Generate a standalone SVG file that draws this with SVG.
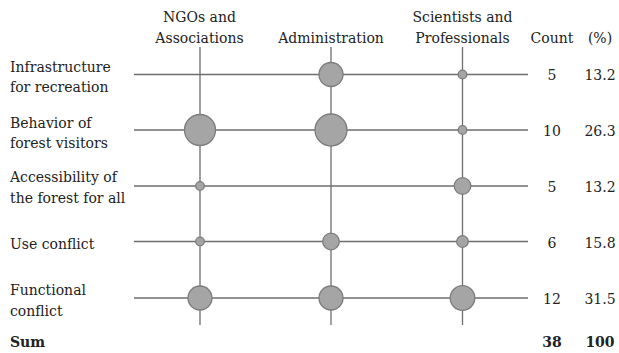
<svg xmlns="http://www.w3.org/2000/svg" width="619" height="353" viewBox="0 0 619 353">
<style>
text{font-family:"DejaVu Serif","Liberation Serif",serif;font-size:14px;fill:#222}
.c{text-anchor:middle}
.b{font-weight:bold}
.ln{stroke:#6e6e6e;stroke-width:1.3;fill:none}
.dot{fill:#a5a5a5;stroke:#7c7c7c;stroke-width:1.3}
</style>
<rect width="619" height="353" fill="#fff"/>
<g id="connectors">
<line class="ln" x1="200" y1="47" x2="200" y2="325"/>
<line class="ln" x1="331" y1="47" x2="331" y2="325"/>
<line class="ln" x1="462.5" y1="47" x2="462.5" y2="325"/>
<line class="ln" x1="134" y1="74.5" x2="528" y2="74.5"/>
<line class="ln" x1="134" y1="130" x2="528" y2="130"/>
<line class="ln" x1="134" y1="186" x2="528" y2="186"/>
<line class="ln" x1="134" y1="241.5" x2="528" y2="241.5"/>
<line class="ln" x1="134" y1="298" x2="528" y2="298"/>
</g>
<g id="headers">
<text class="c" x="199.5" y="22">NGOs and</text>
<text class="c" x="199.5" y="43">Associations</text>
<text class="c" x="331" y="43">Administration</text>
<text class="c" x="462.5" y="22">Scientists and</text>
<text class="c" x="462.5" y="43">Professionals</text>
<text class="c" x="552" y="43">Count</text>
<text class="c" x="600" y="43">(%)</text>
</g>
<g id="row-infrastructure">
<text x="10" y="72">Infrastructure</text>
<text x="10" y="92">for recreation</text>
<circle class="dot" cx="331" cy="74.5" r="12"/>
<circle class="dot" cx="462.5" cy="74.5" r="4.3"/>
<text class="c" x="552" y="80">5</text>
<text class="c" x="600" y="80">13.2</text>
</g>
<g id="row-behavior">
<text x="10" y="128">Behavior of</text>
<text x="10" y="148">forest visitors</text>
<circle class="dot" cx="200" cy="130" r="15.5"/>
<circle class="dot" cx="331" cy="130" r="16"/>
<circle class="dot" cx="462.5" cy="130" r="4.3"/>
<text class="c" x="552" y="136">10</text>
<text class="c" x="600" y="136">26.3</text>
</g>
<g id="row-accessibility">
<text x="10" y="182">Accessibility of</text>
<text x="10" y="203">the forest for all</text>
<circle class="dot" cx="200" cy="186" r="4.3"/>
<circle class="dot" cx="462.5" cy="186" r="8.3"/>
<text class="c" x="552" y="192">5</text>
<text class="c" x="600" y="192">13.2</text>
</g>
<g id="row-use">
<text x="10" y="249">Use conflict</text>
<circle class="dot" cx="200" cy="241.5" r="4.3"/>
<circle class="dot" cx="331" cy="241.5" r="8.3"/>
<circle class="dot" cx="462.5" cy="241.5" r="5.8"/>
<text class="c" x="552" y="247.5">6</text>
<text class="c" x="600" y="247.5">15.8</text>
</g>
<g id="row-functional">
<text x="10" y="295">Functional</text>
<text x="10" y="316">conflict</text>
<circle class="dot" cx="200" cy="298" r="12"/>
<circle class="dot" cx="331" cy="298" r="12"/>
<circle class="dot" cx="462.5" cy="298" r="12.3"/>
<text class="c" x="552" y="304">12</text>
<text class="c" x="600" y="304">31.5</text>
</g>
<g id="row-sum">
<text class="b" x="10" y="347">Sum</text>
<text class="c b" x="552" y="347">38</text>
<text class="c b" x="600" y="347">100</text>
</g>
</svg>
